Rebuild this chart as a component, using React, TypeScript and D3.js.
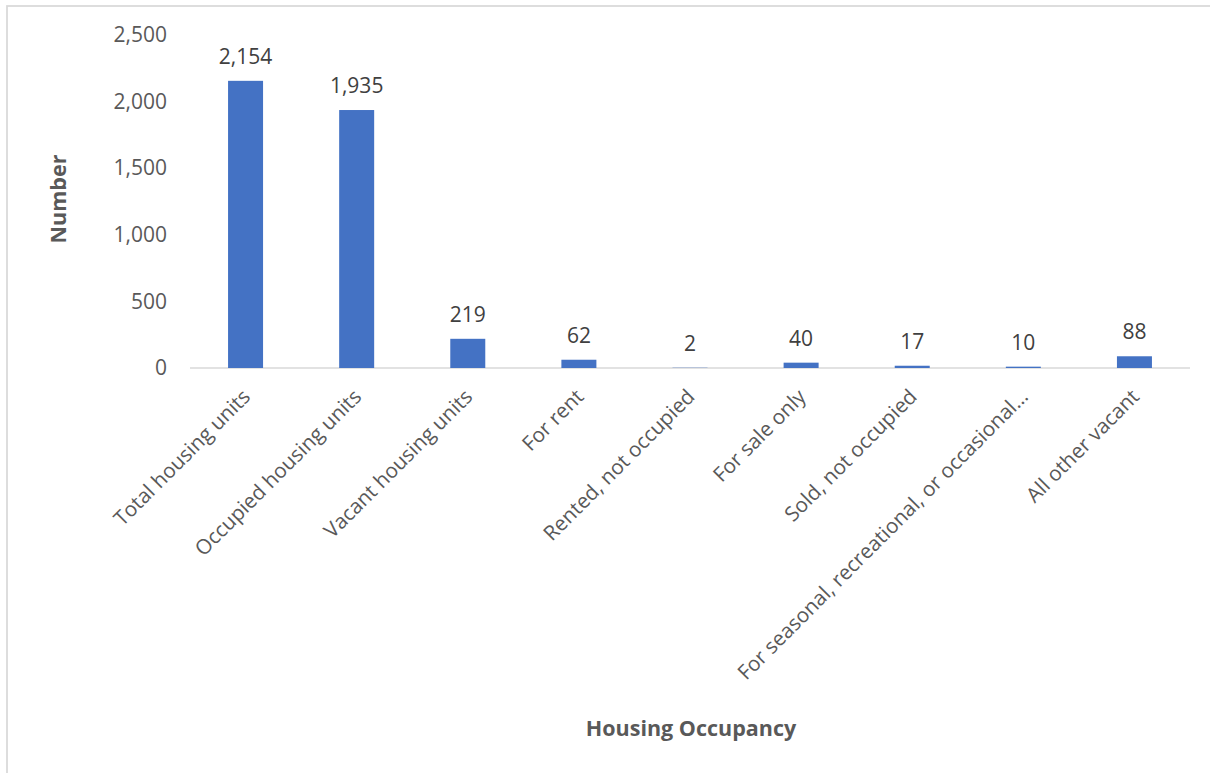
import React from "react";
import * as d3 from "d3";

const categories = [
  "Total housing units",
  "Occupied housing units",
  "Vacant housing units",
  "For rent",
  "Rented, not occupied",
  "For sale only",
  "Sold, not occupied",
  "For seasonal, recreational, or occasional…",
  "All other vacant",
];
const values = [2154, 1935, 219, 62, 2, 40, 17, 10, 88];
const yTicks = [0, 500, 1000, 1500, 2000, 2500];

const W = 1210;
const H = 773;
const plot = { left: 190, right: 1190, top: 34.7, bottom: 368 };
const FONT = "'Open Sans', 'Liberation Sans', sans-serif";

export default function App() {
  const x = d3
    .scaleBand<string>()
    .domain(categories)
    .range([plot.left, plot.right])
    .paddingInner(0.685)
    .paddingOuter(0.3425);
  const y = d3.scaleLinear().domain([0, 2500]).range([plot.bottom, plot.top]);
  const fmt = d3.format(",");

  return (
    <svg
      width={W}
      height={H}
      style={{ position: "absolute", left: 0, top: 0, background: "#fff" }}
      fontFamily={FONT}
    >
      <rect x={7} y={6} width={W + 20} height={H + 20} fill="#fff" stroke="#D9D9D9" strokeWidth={1.75} />
      {yTicks.map((t) => (
        <text
          key={t}
          x={167}
          y={y(t)}
          dy="0.35em"
          textAnchor="end"
          fontSize={21}
          fill="#595959"
        >
          {fmt(t)}
        </text>
      ))}
      <line x1={plot.left} x2={plot.right} y1={y(0)} y2={y(0)} stroke="#D9D9D9" strokeWidth={1.5} />
      {categories.map((c, i) => {
        const bx = x(c)!;
        const bw = x.bandwidth();
        const cx = bx + bw / 2;
        return (
          <g key={c}>
            <rect x={bx} y={y(values[i])} width={bw} height={y(0) - y(values[i])} fill="#4472C4" />
            <text
              x={cx}
              y={y(values[i]) - 17}
              textAnchor="middle"
              fontSize={21}
              fill="#404040"
            >
              {fmt(values[i])}
            </text>
            <text
              transform={`translate(${cx + 6},${plot.bottom + 30}) rotate(-45)`}
              textAnchor="end"
              fontSize={20.6}
              fill="#595959"
            >
              {c}
            </text>
          </g>
        );
      })}
      <text
        transform={`translate(66,199) rotate(-90)`}
        textAnchor="middle"
        fontSize={21.5}
        fontWeight="bold"
        fill="#595959"
      >
        Number
      </text>
      <text x={691} y={736} textAnchor="middle" fontSize={21.5} fontWeight="bold" fill="#595959">
        Housing Occupancy
      </text>
    </svg>
  );
}
